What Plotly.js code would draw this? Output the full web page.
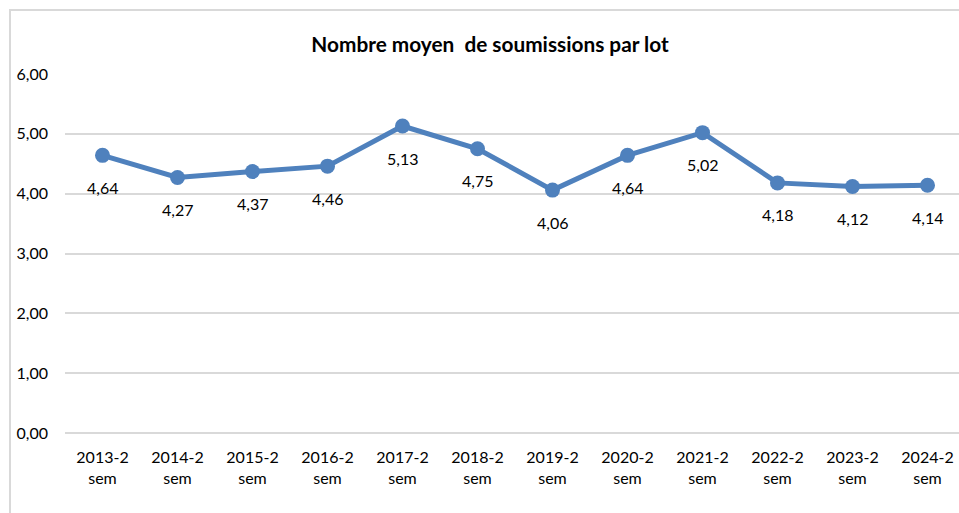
<!DOCTYPE html>
<html>
<head>
<meta charset="utf-8">
<script src="https://cdn.plot.ly/plotly-3.0.1.min.js"></script>
<style>
  html, body { margin: 0; padding: 0; background: #fff; }
  #chart { width: 959px; height: 513px; position: absolute; left: 0; top: 0; }
  #frame { position: absolute; left: 9px; top: 9px; width: 1000px; height: 600px;
           border-left: 2px solid #d9d9d9; border-top: 2px solid #d9d9d9; pointer-events: none; }
</style>
</head>
<body>
<div id="chart"></div>
<div id="frame"></div>
<script>
const categories = ["2013-2<br>sem", "2014-2<br>sem", "2015-2<br>sem", "2016-2<br>sem", "2017-2<br>sem", "2018-2<br>sem",
                    "2019-2<br>sem", "2020-2<br>sem", "2021-2<br>sem", "2022-2<br>sem", "2023-2<br>sem", "2024-2<br>sem"];
const values = [4.64, 4.27, 4.37, 4.46, 5.13, 4.75, 4.06, 4.64, 5.02, 4.18, 4.12, 4.14];
const yTickVals = [0, 1, 2, 3, 4, 5, 6];
const yTickText = ["0,00", "1,00", "2,00", "3,00", "4,00", "5,00", "6,00"];
const titleText = "Nombre moyen\u00a0 de soumissions par lot";

const fmt = v => v.toFixed(2).replace(".", ",");
const FONT = "Lato, 'Liberation Sans', sans-serif";

const trace = {
  x: categories.map((c, i) => i),
  y: values,
  type: "scatter",
  mode: "lines+markers",
  line: { color: "#4F81BD", width: 5 },
  marker: { color: "#4F81BD", size: 15 },
  hoverinfo: "skip"
};

const annotations = values.map((v, i) => ({
  x: i, y: v, xref: "x", yref: "y",
  text: fmt(v), showarrow: false, yshift: -32,
  font: { family: FONT, size: 16, color: "#000" }
}));

const layout = {
  width: 959, height: 513,
  margin: { l: 65, r: 0, t: 74, b: 80 },
  paper_bgcolor: "#fff", plot_bgcolor: "#fff",
  showlegend: false,
  title: { text: "<b>" + titleText + "</b>", x: 0.511, xanchor: "center", y: 0.912, yanchor: "middle",
           font: { family: FONT, size: 20.8, color: "#000" } },
  xaxis: {
    range: [-0.5, 11.42], tickmode: "array",
    tickvals: categories.map((c, i) => i), ticktext: categories,
    showgrid: false, zeroline: false, showline: false, ticks: "", ticklabelstandoff: 13,
    tickfont: { family: FONT, size: 16, color: "#000" }, fixedrange: true
  },
  yaxis: {
    range: [0, 6], tickmode: "array", tickvals: yTickVals, ticktext: yTickText,
    showgrid: true, gridcolor: "#d9d9d9", gridwidth: 2,
    zeroline: true, zerolinecolor: "#d9d9d9", zerolinewidth: 2, showline: false,
    ticks: "", ticklabelstandoff: 16,
    tickfont: { family: FONT, size: 16, color: "#000" }, fixedrange: true
  },
  annotations: annotations
};

Plotly.newPlot("chart", [trace], layout, { displayModeBar: false, staticPlot: true });
</script>
</body>
</html>
